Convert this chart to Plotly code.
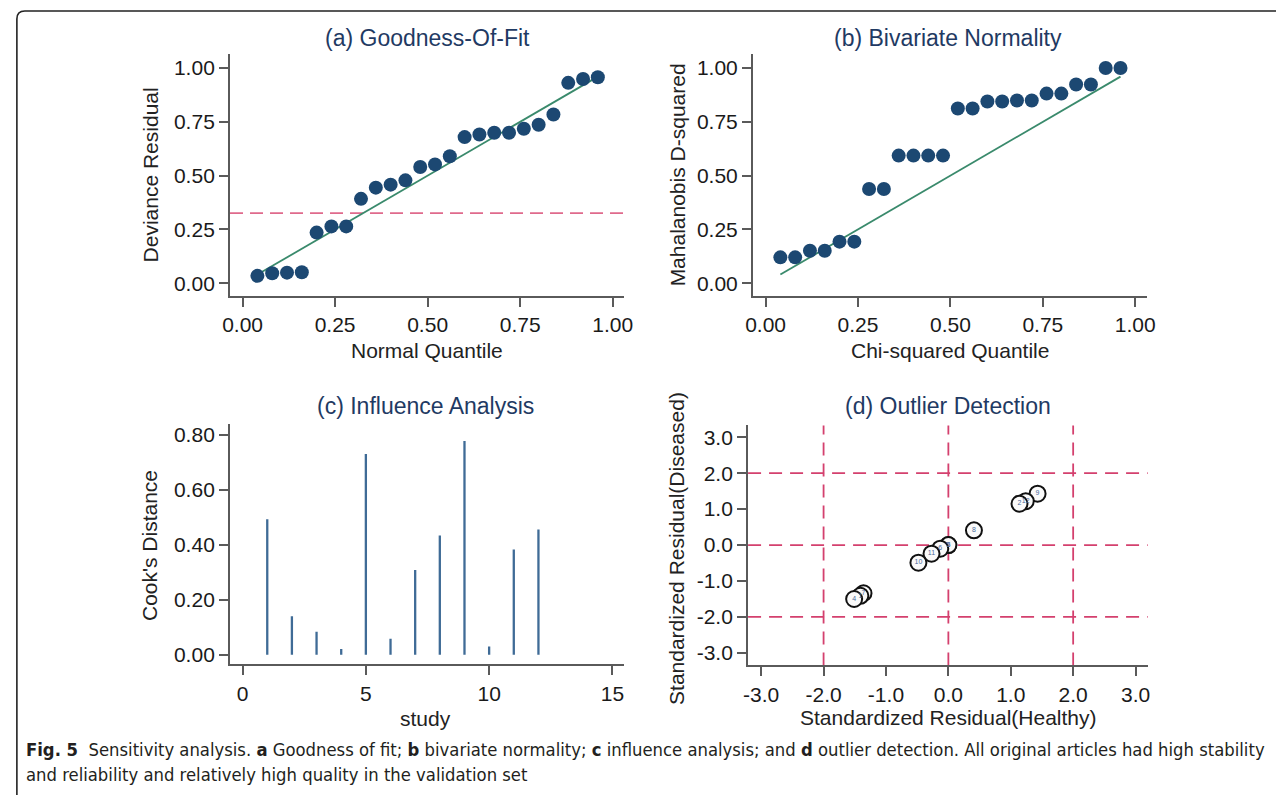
import plotly.graph_objects as go

W, H = 1285, 797

# ---------------- data ----------------
quantiles = [0.04, 0.08, 0.12, 0.16, 0.20, 0.24, 0.28, 0.32, 0.36, 0.40, 0.44, 0.48,
             0.52, 0.56, 0.60, 0.64, 0.68, 0.72, 0.76, 0.80, 0.84, 0.88, 0.92, 0.96]
deviance_residual = [0.034, 0.046, 0.049, 0.051, 0.235, 0.264, 0.264, 0.392, 0.444, 0.458,
                     0.478, 0.540, 0.552, 0.590, 0.679, 0.691, 0.699, 0.699, 0.718, 0.736,
                     0.784, 0.931, 0.949, 0.957]
deviance_threshold = 0.326

mahalanobis_d2 = [0.120, 0.120, 0.151, 0.151, 0.193, 0.193, 0.438, 0.438, 0.593, 0.593,
                  0.593, 0.593, 0.812, 0.812, 0.844, 0.844, 0.849, 0.849, 0.881, 0.881,
                  0.923, 0.923, 1.000, 1.000]

study = [1, 2, 3, 4, 5, 6, 7, 8, 9, 10, 11, 12]
cooks_distance = [0.493, 0.140, 0.084, 0.021, 0.730, 0.058, 0.308, 0.434, 0.777, 0.030, 0.383, 0.455]

resid_healthy = [1.43, 1.24, 1.14, 0.41, 0.00, 0.00, -0.13, -0.27, -0.48, -1.36, -1.41, -1.51]
resid_diseased = [1.43, 1.22, 1.15, 0.41, 0.00, 0.00, -0.10, -0.24, -0.49, -1.34, -1.41, -1.50]
outlier_labels = ["9", "12", "2", "8", "3", "5", "6", "11", "10", "7", "1", "4"]
outlier_refs = [-2, 0, 2]

ticks_q = [0, 0.25, 0.5, 0.75, 1.0]
ticks_cook = [0, 0.2, 0.4, 0.6, 0.8]
ticks_study = [0, 5, 10, 15]
ticks_resid = [-3, -2, -1, 0, 1, 2, 3]

# ---------------- styles ----------------
FONT = "Liberation Sans, Arial, sans-serif"
NAVY = "#1c4872"
GREEN = "#3a8a6c"
PINK = "#df6a8c"
RED = "#d4406e"
BAR = "#3f6b96"
AXC = "#5a5a5a"
TITLEC = "#1f3a63"


def xdom(a, b):
    return [a / W, b / W]


def ydom(top, bottom):
    return [1 - bottom / H, 1 - top / H]


def px(x):
    return x / W


def py(y):
    return 1 - y / H


axis_common = dict(showline=True, linecolor=AXC, linewidth=2, ticks="outside", ticklen=9,
                   tickwidth=1.5, tickcolor=AXC, showgrid=False, zeroline=False,
                   tickfont=dict(family=FONT, size=21, color="#1a1a1a"), fixedrange=True)

fig = go.Figure()

# (a)
fig.add_trace(go.Scatter(x=[min(quantiles), max(quantiles)], y=[min(quantiles), max(quantiles)],
                         mode="lines", line=dict(color=GREEN, width=1.8),
                         xaxis="x", yaxis="y", showlegend=False))
fig.add_trace(go.Scatter(x=quantiles, y=deviance_residual, mode="markers",
                         marker=dict(color=NAVY, size=14), xaxis="x", yaxis="y", showlegend=False))

# (b)
fig.add_trace(go.Scatter(x=[min(quantiles), max(quantiles)], y=[min(quantiles), max(quantiles)],
                         mode="lines", line=dict(color=GREEN, width=1.8),
                         xaxis="x2", yaxis="y2", showlegend=False))
fig.add_trace(go.Scatter(x=quantiles, y=mahalanobis_d2, mode="markers",
                         marker=dict(color=NAVY, size=14), xaxis="x2", yaxis="y2", showlegend=False))

# (c) spikes built from the data
spike_x, spike_y = [], []
for s, v in zip(study, cooks_distance):
    spike_x += [s, s, None]
    spike_y += [0, v, None]
fig.add_trace(go.Scatter(x=spike_x, y=spike_y, mode="lines", line=dict(color=BAR, width=2.3),
                         xaxis="x3", yaxis="y3", showlegend=False))

# (d)
fig.add_trace(go.Scatter(x=resid_healthy, y=resid_diseased, mode="markers+text",
                         text=outlier_labels, textposition="middle center",
                         textfont=dict(family=FONT, size=7, color="#4a6a9a"),
                         marker=dict(color="#fafafa", size=16, line=dict(color="#111111", width=2)),
                         xaxis="x4", yaxis="y4", showlegend=False))

shapes = []
# (a) threshold
shapes.append(dict(type="line", xref="x domain", yref="y", x0=0, x1=1,
                   y0=deviance_threshold, y1=deviance_threshold,
                   line=dict(color=PINK, width=1.8, dash="13px,7px"), layer="below"))
# (d) reference lines
for v in outlier_refs:
    shapes.append(dict(type="line", xref="x4", yref="y4 domain", x0=v, x1=v, y0=0, y1=1,
                       line=dict(color=RED, width=1.8, dash="13px,8px"), layer="below"))
    shapes.append(dict(type="line", xref="x4 domain", yref="y4", x0=0, x1=1, y0=v, y1=v,
                       line=dict(color=RED, width=1.8, dash="13px,8px"), layer="below"))
# frame
frame_path = (f"M {px(9)},{py(797)} L {px(9)},{py(18)} Q {px(9)},{py(10)} {px(17)},{py(10)} "
              f"L {px(1285)},{py(10)}")
shapes.append(dict(type="path", xref="paper", yref="paper", path=frame_path,
                   line=dict(color="#222222", width=1.6)))

annotations = []


def ann(text, x, y, size, color, angle=0, xanchor="center", family=FONT):
    annotations.append(dict(text=text, xref="paper", yref="paper", x=px(x), y=py(y),
                            xanchor=xanchor, yanchor="middle", showarrow=False, textangle=angle,
                            font=dict(family=family, size=size, color=color)))


# panel titles
ann("(a) Goodness-Of-Fit", 425, 37, 23, TITLEC)
ann("(b) Bivariate Normality", 953, 37, 23, TITLEC)
ann("(c) Influence Analysis", 423, 407, 23, TITLEC)
ann("(d) Outlier Detection", 953, 407, 23, TITLEC)
# axis titles
ann("Normal Quantile", 425, 351, 21, "#222222")
ann("Chi-squared Quantile", 955, 351, 21, "#222222")
ann("study", 423, 720, 21, "#222222")
ann("Standardized Residual(Healthy)", 953, 719, 21, "#222222")
ann("Deviance Residual", 144, 175, 21, "#222222", angle=-90)
ann("Mahalanobis D-squared", 678, 175, 21, "#222222", angle=-90)
ann("Cook's Distance", 144, 547, 21, "#222222", angle=-90)
ann("Standardized Residual(Diseased)", 678, 550, 21, "#222222", angle=-90)

# caption
CAP = "Liberation Sans Narrow, DejaVu Sans Condensed, Arial Narrow, sans-serif"
ann("<b>Fig. 5</b>  Sensitivity analysis. <b>a</b> Goodness of fit; <b>b</b> bivariate normality; "
    "<b>c</b> influence analysis; and <b>d</b> outlier detection. All original articles had high stability",
    16, 751, 18.3, "#231f20", xanchor="left", family=CAP)
ann("and reliability and relatively high quality in the validation set",
    16, 776, 18.3, "#231f20", xanchor="left", family=CAP)


def fmt(vals, d):
    return [f"{v:.{d}f}" for v in vals]


fig.update_layout(
    width=W, height=H, autosize=False,
    margin=dict(l=0, r=0, t=0, b=0),
    paper_bgcolor="white", plot_bgcolor="white",
    showlegend=False,
    xaxis=dict(axis_common, domain=xdom(225, 624), range=[-0.034, 1.030], anchor="y",
               tickvals=ticks_q, ticktext=fmt(ticks_q, 2)),
    yaxis=dict(axis_common, domain=ydom(53, 296), range=[-0.059, 1.066], anchor="x",
               tickvals=ticks_q, ticktext=fmt(ticks_q, 2)),
    xaxis2=dict(axis_common, domain=xdom(755, 1154), range=[-0.034, 1.031], anchor="y2",
                tickvals=ticks_q, ticktext=fmt(ticks_q, 2)),
    yaxis2=dict(axis_common, domain=ydom(53, 296), range=[-0.059, 1.066], anchor="x2",
                tickvals=ticks_q, ticktext=fmt(ticks_q, 2)),
    xaxis3=dict(axis_common, domain=xdom(225, 624), range=[-0.51, 15.46], anchor="y3",
                tickvals=ticks_study, ticktext=fmt(ticks_study, 0)),
    yaxis3=dict(axis_common, domain=ydom(425, 666), range=[-0.0355, 0.8376], anchor="x3",
                tickvals=ticks_cook, ticktext=fmt(ticks_cook, 2)),
    xaxis4=dict(axis_common, domain=xdom(750, 1155), range=[-3.21, 3.195], anchor="y4",
                tickvals=ticks_resid, ticktext=fmt(ticks_resid, 1)),
    yaxis4=dict(axis_common, domain=ydom(426, 667), range=[-3.35, 3.33], anchor="x4",
                tickvals=ticks_resid, ticktext=fmt(ticks_resid, 1)),
    shapes=shapes,
    annotations=annotations,
)

fig.write_html("out.html")
